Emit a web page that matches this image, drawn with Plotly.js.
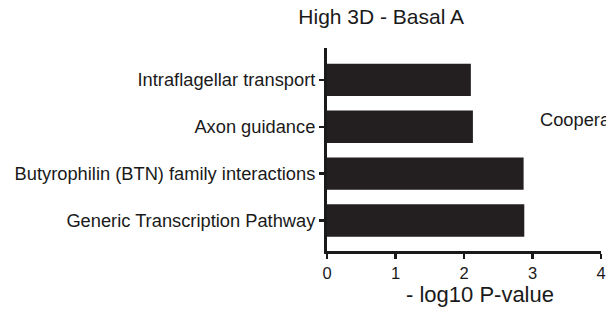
<!DOCTYPE html>
<html><head><meta charset="utf-8">
<script src="https://cdn.plot.ly/plotly-3.0.1.min.js"></script>
<style>html,body{margin:0;padding:0;background:#fff;overflow:hidden}</style>
</head><body><div id="chart" style="width:606px;height:312px"></div>
<script>
const categories = ["Generic Transcription Pathway","Butyrophilin (BTN) family interactions","Axon guidance","Intraflagellar transport"];
const values = [2.88, 2.87, 2.13, 2.10];
const xTicks = [0,1,2,3,4];
const titleText = "High 3D - Basal A";
const xTitleText = "- log10 P-value";
const sideText = "Cooperative";

const font = {family: "Liberation Sans, Arial, sans-serif", color: "#1a1a1a"};
const f = s => Object.assign({size: s}, font);
Plotly.newPlot("chart", [{
  type: "bar", orientation: "h", x: values, y: categories,
  marker: {color: "#231f20"}, width: 0.69, hoverinfo: "none"
}], {
  width: 606, height: 312,
  margin: {l: 327, r: 5, t: 48, b: 61},
  paper_bgcolor: "#fff", plot_bgcolor: "#fff",
  font: f(18.3),
  title: {text: titleText, x: 0.629, xanchor: "center", y: 0.947, yanchor: "middle", font: f(21)},
  xaxis: {range: [0, 4], tickvals: xTicks, ticks: "outside", ticklen: 5, tickwidth: 2.5, tickcolor: "#1a1a1a",
    showline: true, linewidth: 3, linecolor: "#1a1a1a", showgrid: false, zeroline: false,
    tickfont: f(16.5)},
  yaxis: {range: [-0.65, 3.68], ticks: "outside", ticklen: 5, tickwidth: 2.5, tickcolor: "#1a1a1a",
    showline: true, linewidth: 3, linecolor: "#1a1a1a", showgrid: false, zeroline: false,
    tickfont: f(18.3)},
  annotations: [
    {xref: "paper", yref: "paper", x: 0.770, y: 0.650, xanchor: "left", yanchor: "middle",
      text: sideText, showarrow: false, font: f(18.3)},
    {xref: "paper", yref: "paper", x: 0.558, y: -0.212, xanchor: "center", yanchor: "middle",
      text: xTitleText, showarrow: false, font: f(22)}
  ],
  showlegend: false
}, {staticPlot: true});
</script></body></html>
